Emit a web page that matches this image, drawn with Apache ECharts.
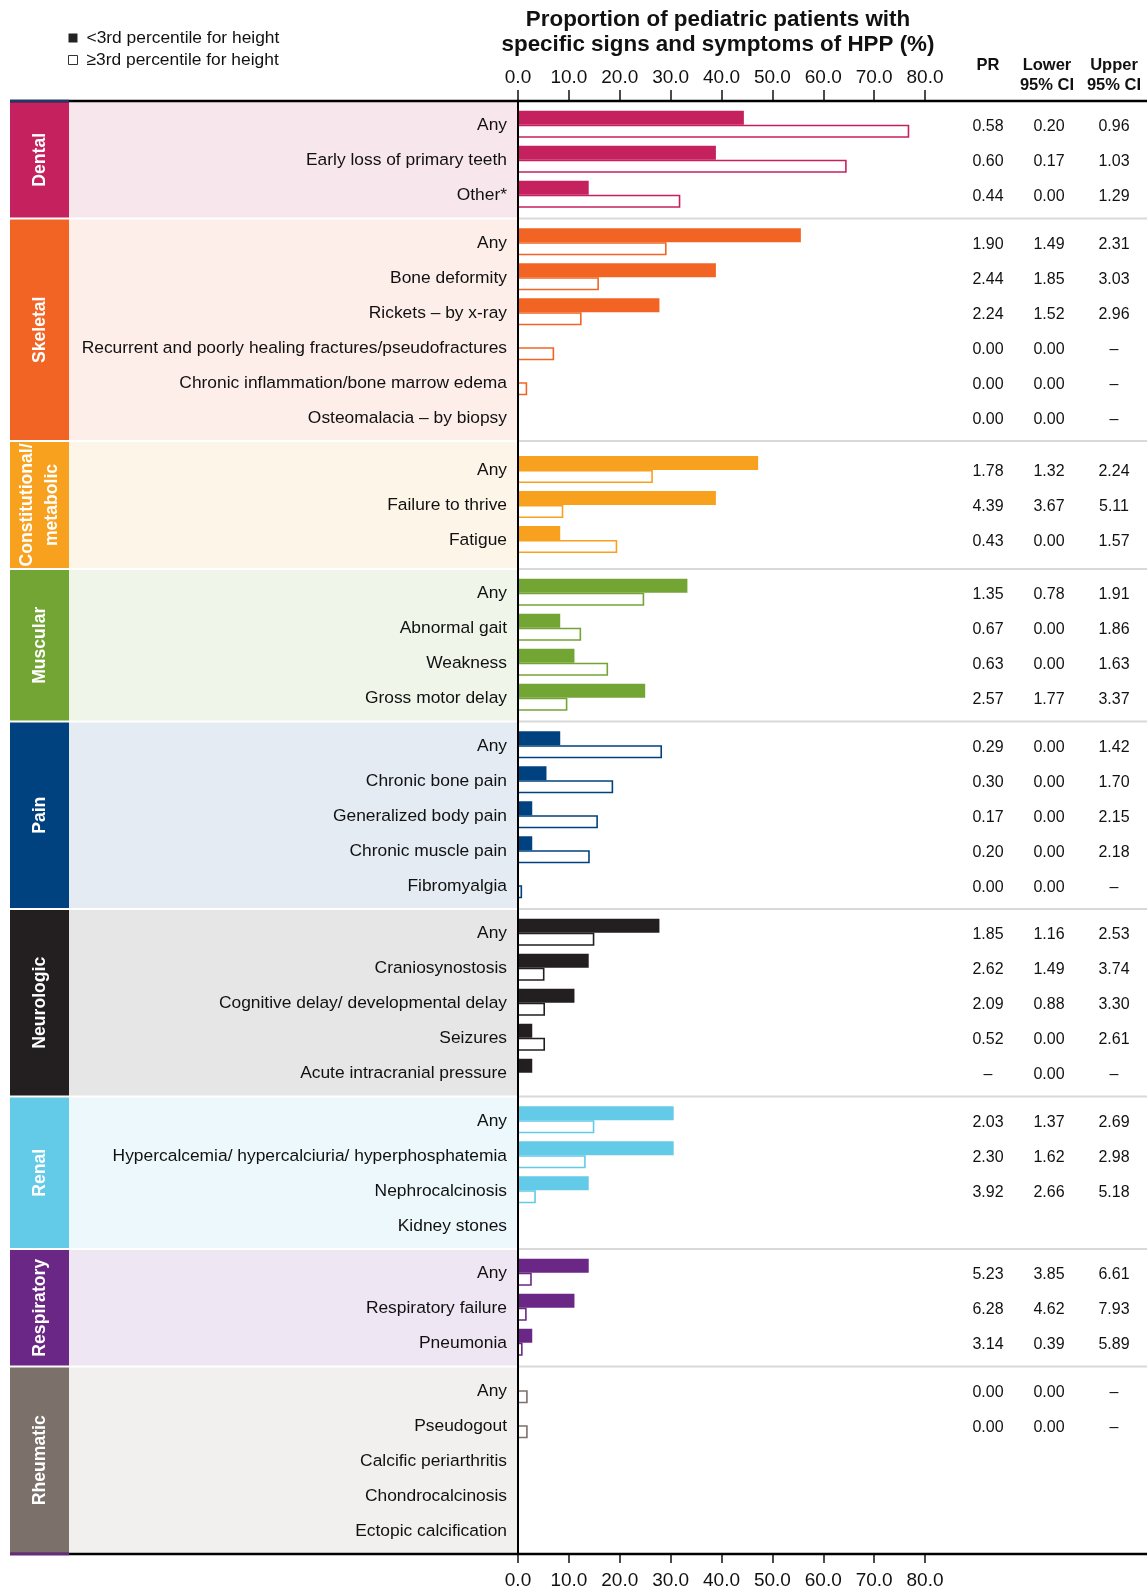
<!DOCTYPE html>
<html>
<head>
<meta charset="utf-8">
<title>HPP signs and symptoms by height percentile</title>
<script src="https://cdn.jsdelivr.net/npm/echarts@6/dist/echarts.min.js"></script>
<style>
  html, body { margin: 0; padding: 0; background: #fff; }
  #chart { width: 1147px; height: 1591px; }
</style>
</head>
<body>
<div id="chart"></div>
<script>
// 分组和每组的行数
const groupNames = ['Dental', 'Skeletal', 'Constitutional/\nmetabolic', 'Muscular', 'Pain', 'Neurologic', 'Renal', 'Respiratory', 'Rheumatic']
const groupSizes = [3, 6, 3, 4, 5, 5, 4, 3, 5]

const symptoms = [
  'Any', 'Early loss of primary teeth', 'Other*',
  'Any', 'Bone deformity', 'Rickets – by x-ray', 'Recurrent and poorly healing fractures/pseudofractures', 'Chronic inflammation/bone marrow edema', 'Osteomalacia – by biopsy',
  'Any', 'Failure to thrive', 'Fatigue',
  'Any', 'Abnormal gait', 'Weakness', 'Gross motor delay',
  'Any', 'Chronic bone pain', 'Generalized body pain', 'Chronic muscle pain', 'Fibromyalgia',
  'Any', 'Craniosynostosis', 'Cognitive delay/ developmental delay', 'Seizures', 'Acute intracranial pressure',
  'Any', 'Hypercalcemia/ hypercalciuria/ hyperphosphatemia', 'Nephrocalcinosis', 'Kidney stones',
  'Any', 'Respiratory failure', 'Pneumonia',
  'Any', 'Pseudogout', 'Calcific periarthritis', 'Chondrocalcinosis', 'Ectopic calcification'
]

// <3rd percentile (实心) / ≥3rd percentile (空心), %
const below3rd = [
  44.4, 38.9, 13.9,
  55.6, 38.9, 27.8, 0, 0, 0,
  47.2, 38.9, 8.3,
  33.3, 8.3, 11.1, 25.0,
  8.3, 5.6, 2.8, 2.8, 0,
  27.8, 13.9, 11.1, 2.8, 2.8,
  30.6, 30.6, 13.9, 0,
  13.9, 11.1, 2.8,
  0, 0, 0, 0, 0
]
const atOrAbove3rd = [
  76.9, 64.6, 31.9,
  29.2, 15.9, 12.5, 7.1, 1.8, 0,
  26.5, 8.9, 19.5,
  24.8, 12.4, 17.7, 9.7,
  28.3, 18.7, 15.7, 14.1, 0.8,
  15.0, 5.2, 5.3, 5.3, 0,
  15.0, 13.3, 3.5, 0,
  2.7, 1.7, 0.9,
  1.9, 1.9, 0, 0, 0
]

const prValues = [
  '0.58', '0.60', '0.44',
  '1.90', '2.44', '2.24', '0.00', '0.00', '0.00',
  '1.78', '4.39', '0.43',
  '1.35', '0.67', '0.63', '2.57',
  '0.29', '0.30', '0.17', '0.20', '0.00',
  '1.85', '2.62', '2.09', '0.52', '–',
  '2.03', '2.30', '3.92', '',
  '5.23', '6.28', '3.14',
  '0.00', '0.00', '', '', ''
]
const lowerCI = [
  '0.20', '0.17', '0.00',
  '1.49', '1.85', '1.52', '0.00', '0.00', '0.00',
  '1.32', '3.67', '0.00',
  '0.78', '0.00', '0.00', '1.77',
  '0.00', '0.00', '0.00', '0.00', '0.00',
  '1.16', '1.49', '0.88', '0.00', '0.00',
  '1.37', '1.62', '2.66', '',
  '3.85', '4.62', '0.39',
  '0.00', '0.00', '', '', ''
]
const upperCI = [
  '0.96', '1.03', '1.29',
  '2.31', '3.03', '2.96', '–', '–', '–',
  '2.24', '5.11', '1.57',
  '1.91', '1.86', '1.63', '3.37',
  '1.42', '1.70', '2.15', '2.18', '–',
  '2.53', '3.74', '3.30', '2.61', '–',
  '2.69', '2.98', '5.18', '',
  '6.61', '7.93', '5.89',
  '–', '–', '', '', ''
]

const xTicks = [0, 10, 20, 30, 40, 50, 60, 70, 80]

// 样式
const groupColors = ['#c6215f', '#f26424', '#f8a11e', '#73a535', '#00427f', '#231f20', '#63cae8', '#6b2785', '#7c706b']
const groupTints = ['#f8e6ed', '#fdeee9', '#fef5e9', '#f0f5ea', '#e4ebf3', '#e6e6e6', '#edf8fc', '#efe6f3', '#f1f0ef']
const FONT = "'Liberation Sans', Arial, Helvetica, sans-serif"

// 纵向布局（单位与像素一致）
const ROW = 35
const groupStart = []
const groupEnd = []
const rowY = []
const rowGroup = []
let cursor = 0
groupNames.forEach((name, g) => {
  const pad = name.indexOf('\n') >= 0 ? 23 : 12.5
  groupStart.push(cursor)
  for (let r = 0; r < groupSizes[g]; r++) {
    rowY.push(cursor + pad / 2 + ROW * r + ROW / 2)
    rowGroup.push(g)
  }
  cursor += groupSizes[g] * ROW + pad
  groupEnd.push(cursor)
})
const totalH = cursor

const chart = echarts.init(document.getElementById('chart'))

const headerStyle = { fontFamily: FONT, fontWeight: 'bold', fontSize: 16.5, lineHeight: 20, color: '#111' }

const option = {
  animation: false,
  title: [
    {
      text: 'Proportion of pediatric patients with\nspecific signs and symptoms of HPP (%)',
      left: 718, top: 8, textAlign: 'center', padding: 0,
      textStyle: { fontFamily: FONT, fontWeight: 'bold', fontSize: 22.4, lineHeight: 24.5, color: '#111' }
    },
    { text: 'PR', left: 988, top: 55, textAlign: 'center', padding: 0, textStyle: headerStyle },
    { text: 'Lower\n95% CI', left: 1047, top: 55, textAlign: 'center', padding: 0, textStyle: headerStyle },
    { text: 'Upper\n95% CI', left: 1114, top: 55, textAlign: 'center', padding: 0, textStyle: headerStyle }
  ],
  legend: {
    orient: 'vertical', left: 68, top: 29, padding: 0,
    itemWidth: 9, itemHeight: 9, itemGap: 4,
    selectedMode: false,
    textStyle: { fontFamily: FONT, fontSize: 17.4, lineHeight: 18, color: '#111', padding: [0, 0, 0, 4] },
    data: [
      { name: '<3rd percentile for height', icon: 'rect', itemStyle: { color: '#222', borderWidth: 0 } },
      { name: '≥3rd percentile for height', icon: 'rect', itemStyle: { color: '#fff', borderColor: '#333', borderWidth: 1 } }
    ]
  },
  grid: { left: 518, top: 101, width: 407, height: totalH, containLabel: false },
  xAxis: [
    {
      type: 'value', position: 'top',
      min: xTicks[0], max: xTicks[xTicks.length - 1], interval: xTicks[1] - xTicks[0],
      axisLine: { show: false },
      axisTick: { show: true, length: 11, lineStyle: { color: '#111', width: 1.5 } },
      axisLabel: { formatter: v => v.toFixed(1), fontFamily: FONT, fontSize: 19, color: '#111', margin: 14 },
      splitLine: { show: false }
    },
    {
      type: 'value', position: 'bottom',
      min: xTicks[0], max: xTicks[xTicks.length - 1], interval: xTicks[1] - xTicks[0],
      axisLine: { show: false },
      axisTick: { show: true, length: 9, lineStyle: { color: '#111', width: 1.5 } },
      axisLabel: { formatter: v => v.toFixed(1), fontFamily: FONT, fontSize: 19, color: '#111', margin: 17 },
      splitLine: { show: false }
    }
  ],
  yAxis: {
    type: 'value', inverse: true, min: 0, max: totalH, z: 10,
    axisLine: { show: true, onZero: false, lineStyle: { color: '#000', width: 2 } },
    axisTick: { show: false },
    axisLabel: { show: false },
    splitLine: { show: false }
  },
  series: [
    {
      // 分组色块、分隔线
      type: 'custom', name: 'groups', z: 1, silent: true,
      xAxisIndex: 0, yAxisIndex: 0,
      data: groupNames.map((n, g) => [0, groupStart[g], groupEnd[g], g]),
      renderItem (params, api) {
        const g = api.value(3)
        const y0 = api.coord([0, api.value(1)])[1]
        const y1 = api.coord([0, api.value(2)])[1]
        const ax = api.coord([0, 0])[0]
        const W = api.getWidth()
        const last = groupNames.length - 1
        const top = g === 0 ? y0 : y0 + 1
        const bot = g === last ? y1 : y1 - 1
        const children = [
          { type: 'rect', shape: { x: 10, y: top, width: 59, height: bot - top }, style: { fill: groupColors[g] } },
          { type: 'rect', shape: { x: 69, y: top, width: ax - 1 - 69, height: bot - top }, style: { fill: groupTints[g] } },
          {
            type: 'text', x: 40, y: (y0 + y1) / 2, rotation: Math.PI / 2,
            style: {
              text: groupNames[g], fill: '#fff', fontFamily: FONT, fontWeight: 'bold', fontSize: 17.6,
              lineHeight: 25, align: 'center', verticalAlign: 'middle'
            }
          }
        ]
        if (g < last) {
          children.push({ type: 'line', shape: { x1: ax + 1, y1: y1, x2: W, y2: y1 }, style: { stroke: '#d9d9d9', lineWidth: 2 } })
        }
        if (g === 0) {
          children.push({ type: 'line', shape: { x1: 10, y1: y0, x2: W, y2: y0 }, style: { stroke: '#000', lineWidth: 2.5 } })
          children.push({ type: 'line', shape: { x1: 10, y1: y0, x2: 69, y2: y0 }, style: { stroke: '#1d3a6b', lineWidth: 2.5 } })
        }
        if (g === last) {
          children.push({ type: 'line', shape: { x1: 10, y1: y1, x2: W, y2: y1 }, style: { stroke: '#000', lineWidth: 2.5 } })
          children.push({ type: 'line', shape: { x1: 10, y1: y1, x2: 69, y2: y1 }, style: { stroke: '#6b2785', lineWidth: 2.5 } })
        }
        return { type: 'group', children }
      }
    },
    {
      type: 'custom', name: '≥3rd percentile for height', z: 3,
      xAxisIndex: 0, yAxisIndex: 0,
      data: atOrAbove3rd.map((v, i) => [v, rowY[i], rowGroup[i]]),
      encode: { x: 0, y: 1 },
      renderItem (params, api) {
        const v = api.value(0)
        if (!v) return null
        const p0 = api.coord([0, api.value(1)])
        const p1 = api.coord([v, api.value(1)])
        return {
          type: 'rect',
          shape: { x: p0[0], y: p0[1] + 0.75, width: p1[0] - p0[0] - 0.75, height: 11.5 },
          style: { fill: '#fff', stroke: groupColors[api.value(2)], lineWidth: 1.6 }
        }
      }
    },
    {
      type: 'custom', name: '<3rd percentile for height', z: 4,
      xAxisIndex: 0, yAxisIndex: 0,
      data: below3rd.map((v, i) => [v, rowY[i], rowGroup[i]]),
      encode: { x: 0, y: 1 },
      renderItem (params, api) {
        const v = api.value(0)
        if (!v) return null
        const p0 = api.coord([0, api.value(1)])
        const p1 = api.coord([v, api.value(1)])
        return {
          type: 'rect',
          shape: { x: p0[0], y: p0[1] - 14, width: p1[0] - p0[0], height: 14 },
          style: { fill: groupColors[api.value(2)] }
        }
      }
    },
    {
      // 行标签和 PR / CI 列
      type: 'custom', name: 'rows', z: 5, silent: true,
      xAxisIndex: 0, yAxisIndex: 0,
      data: symptoms.map((s, i) => [0, rowY[i], i]),
      renderItem (params, api) {
        const i = api.value(2)
        const c = api.coord([0, api.value(1)])[1]
        const txt = (text, x, align, dy, size) => ({
          type: 'text', x, y: c + dy,
          style: { text, fill: '#111', fontFamily: FONT, fontSize: size, align, verticalAlign: 'middle' }
        })
        return {
          type: 'group',
          children: [
            txt(symptoms[i], 507, 'right', 0.5, 17.4),
            txt(prValues[i], 988, 'center', 2, 16),
            txt(lowerCI[i], 1049, 'center', 2, 16),
            txt(upperCI[i], 1114, 'center', 2, 16)
          ]
        }
      }
    }
  ]
}

chart.setOption(option)
</script>
</body>
</html>
